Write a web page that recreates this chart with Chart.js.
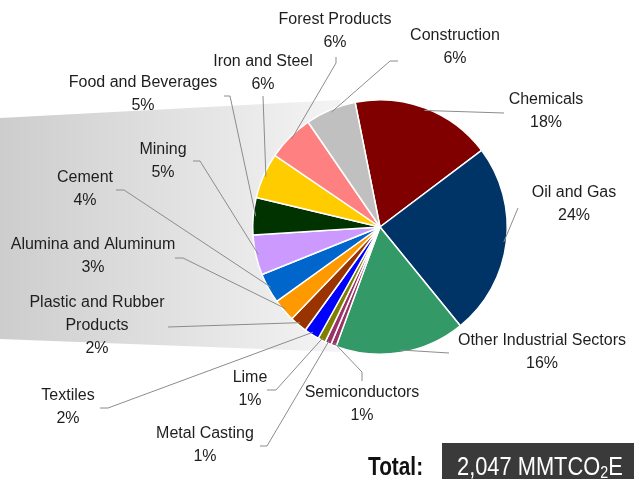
<!DOCTYPE html>
<html>
<head>
<meta charset="utf-8">
<script src="https://cdn.jsdelivr.net/npm/chart.js@4.4.1/dist/chart.umd.min.js"></script>
<style>
  html, body { margin: 0; padding: 0; background: #fff; }
  #wrap { width: 634px; height: 479px; }
</style>
</head>
<body>
<div id="wrap"><canvas id="pieChart" width="634" height="479"></canvas></div>
<script>
// sectors, clockwise from the top
const sectors = [
    'Chemicals', 'Oil and Gas', 'Other Industrial Sectors', 'Semiconductors',
    'Metal Casting', 'Lime', 'Textiles', 'Plastic and Rubber Products',
    'Alumina and Aluminum', 'Cement', 'Mining', 'Food and Beverages',
    'Iron and Steel', 'Forest Products', 'Construction'
];
// emissions, MMTCO2E
const emissions = [364, 498, 336, 14, 16, 20, 39, 45, 59, 78, 104, 96, 118, 121, 131];
const sliceColors = [
    '#800000', '#003366', '#339966', '#993366',
    '#993366', '#808000', '#0000ff', '#993300',
    '#ff9900', '#0066cc', '#cc99ff', '#003300',
    '#ffcc00', '#ff8080', '#c0c0c0'
];
// how each label is broken into lines
const labelLines = [
    ['Chemicals'], ['Oil and Gas'], ['Other Industrial Sectors'], ['Semiconductors'],
    ['Metal Casting'], ['Lime'], ['Textiles'], ['Plastic and Rubber', 'Products'],
    ['Alumina and Aluminum'], ['Cement'], ['Mining'], ['Food and Beverages'],
    ['Iron and Steel'], ['Forest Products'], ['Construction']
];
const totalText = '2,047';

// label placement: centre x, middle of first line y, leader points before the slice
const labelPos = [
    { x: 546, y: 100, lead: [[504, 113]] },
    { x: 574, y: 193, lead: [[518, 208]] },
    { x: 542, y: 341, lead: [[449, 353]] },
    { x: 362, y: 393, lead: [[362, 381], [362, 372]] },
    { x: 205, y: 434, lead: [[260, 446], [267, 446]] },
    { x: 250, y: 378, lead: [[267, 390], [276, 390]] },
    { x: 68,  y: 396, lead: [[100, 408], [108, 408]] },
    { x: 97,  y: 303, lead: [[168, 327]] },
    { x: 93,  y: 245, lead: [[175, 258], [183, 258]] },
    { x: 85,  y: 178, lead: [[116, 190], [124, 190]] },
    { x: 163, y: 150, lead: [[193, 161], [200, 161]] },
    { x: 143, y: 83,  lead: [[224, 96], [230, 96]] },
    { x: 263, y: 62,  lead: [[263, 96]] },
    { x: 335, y: 20,  lead: [[336, 57], [336, 63]] },
    { x: 455, y: 36,  lead: [[398, 61], [390, 61]] }
];

const LABEL_FONT = '16px "Liberation Sans", Arial, sans-serif';
const TOTAL_FONT = '26px "Liberation Sans", Arial, sans-serif';

// grey band behind the pie
const bandPlugin = {
    id: 'band',
    beforeDatasetsDraw(chart) {
        const ctx = chart.ctx;
        const g = ctx.createLinearGradient(0, 0, 330, 0);
        g.addColorStop(0, '#cdcdcd');
        g.addColorStop(1, '#f3f3f3');
        ctx.save();
        ctx.fillStyle = g;
        ctx.beginPath();
        ctx.moveTo(0, 118);
        ctx.lineTo(340, 100);
        ctx.lineTo(340, 352);
        ctx.lineTo(0, 339);
        ctx.closePath();
        ctx.fill();
        ctx.restore();
    }
};

// data labels with leader lines
const leaderPlugin = {
    id: 'leaders',
    afterDatasetsDraw(chart) {
        const ctx = chart.ctx;
        const meta = chart.getDatasetMeta(0);
        const sum = emissions.reduce((a, b) => a + b, 0);
        ctx.save();
        meta.data.forEach((arc, i) => {
            const p = labelPos[i];
            const mid = (arc.startAngle + arc.endAngle) / 2;
            const r = arc.outerRadius * 0.98;
            const ex = arc.x + Math.cos(mid) * r;
            const ey = arc.y + Math.sin(mid) * r;

            ctx.strokeStyle = '#8c8c8c';
            ctx.lineWidth = 1;
            ctx.beginPath();
            ctx.moveTo(p.lead[0][0], p.lead[0][1]);
            p.lead.slice(1).forEach(pt => ctx.lineTo(pt[0], pt[1]));
            ctx.lineTo(ex, ey);
            ctx.stroke();

            const lines = labelLines[i].concat([Math.round(emissions[i] / sum * 100) + '%']);
            ctx.fillStyle = '#1e1e1e';
            ctx.font = LABEL_FONT;
            ctx.textAlign = 'center';
            ctx.textBaseline = 'middle';
            lines.forEach((t, k) => ctx.fillText(t, p.x, p.y + k * 23));
        });
        ctx.restore();
    }
};

// draws text squeezed horizontally (narrow face look), returns the advance
function narrowText(ctx, text, x, y, sx) {
    ctx.save();
    ctx.translate(x, y);
    ctx.scale(sx, 1);
    ctx.fillText(text, 0, 0);
    const w = ctx.measureText(text).width * sx;
    ctx.restore();
    return w;
}

// "Total:" box at the bottom right
const totalPlugin = {
    id: 'total',
    afterDraw(chart) {
        const ctx = chart.ctx;
        ctx.save();
        ctx.fillStyle = '#3a3a3a';
        ctx.fillRect(442, 443, 192, 36);

        ctx.textBaseline = 'alphabetic';
        ctx.textAlign = 'left';
        ctx.font = 'bold ' + TOTAL_FONT;
        ctx.fillStyle = '#111';
        narrowText(ctx, 'Total:', 368, 475, 0.8);

        ctx.font = TOTAL_FONT;
        ctx.fillStyle = '#fff';
        let x = 457;
        x += narrowText(ctx, totalText + ' MMTCO', x, 475, 0.84);
        ctx.font = '17px "Liberation Sans", Arial, sans-serif';
        x += narrowText(ctx, '2', x, 478, 0.84);
        ctx.font = TOTAL_FONT;
        narrowText(ctx, 'E', x, 475, 0.84);
        ctx.restore();
    }
};

new Chart(document.getElementById('pieChart'), {
    type: 'pie',
    data: {
        labels: sectors,
        datasets: [{
            data: emissions,
            backgroundColor: sliceColors,
            borderColor: '#ffffff',
            borderWidth: 1.5
        }]
    },
    options: {
        responsive: false,
        animation: false,
        rotation: -11.3,
        layout: { padding: { left: 252, top: 99, right: 126, bottom: 124 } },
        plugins: {
            legend: { display: false },
            tooltip: { enabled: false }
        }
    },
    plugins: [bandPlugin, leaderPlugin, totalPlugin]
});
</script>
</body>
</html>
